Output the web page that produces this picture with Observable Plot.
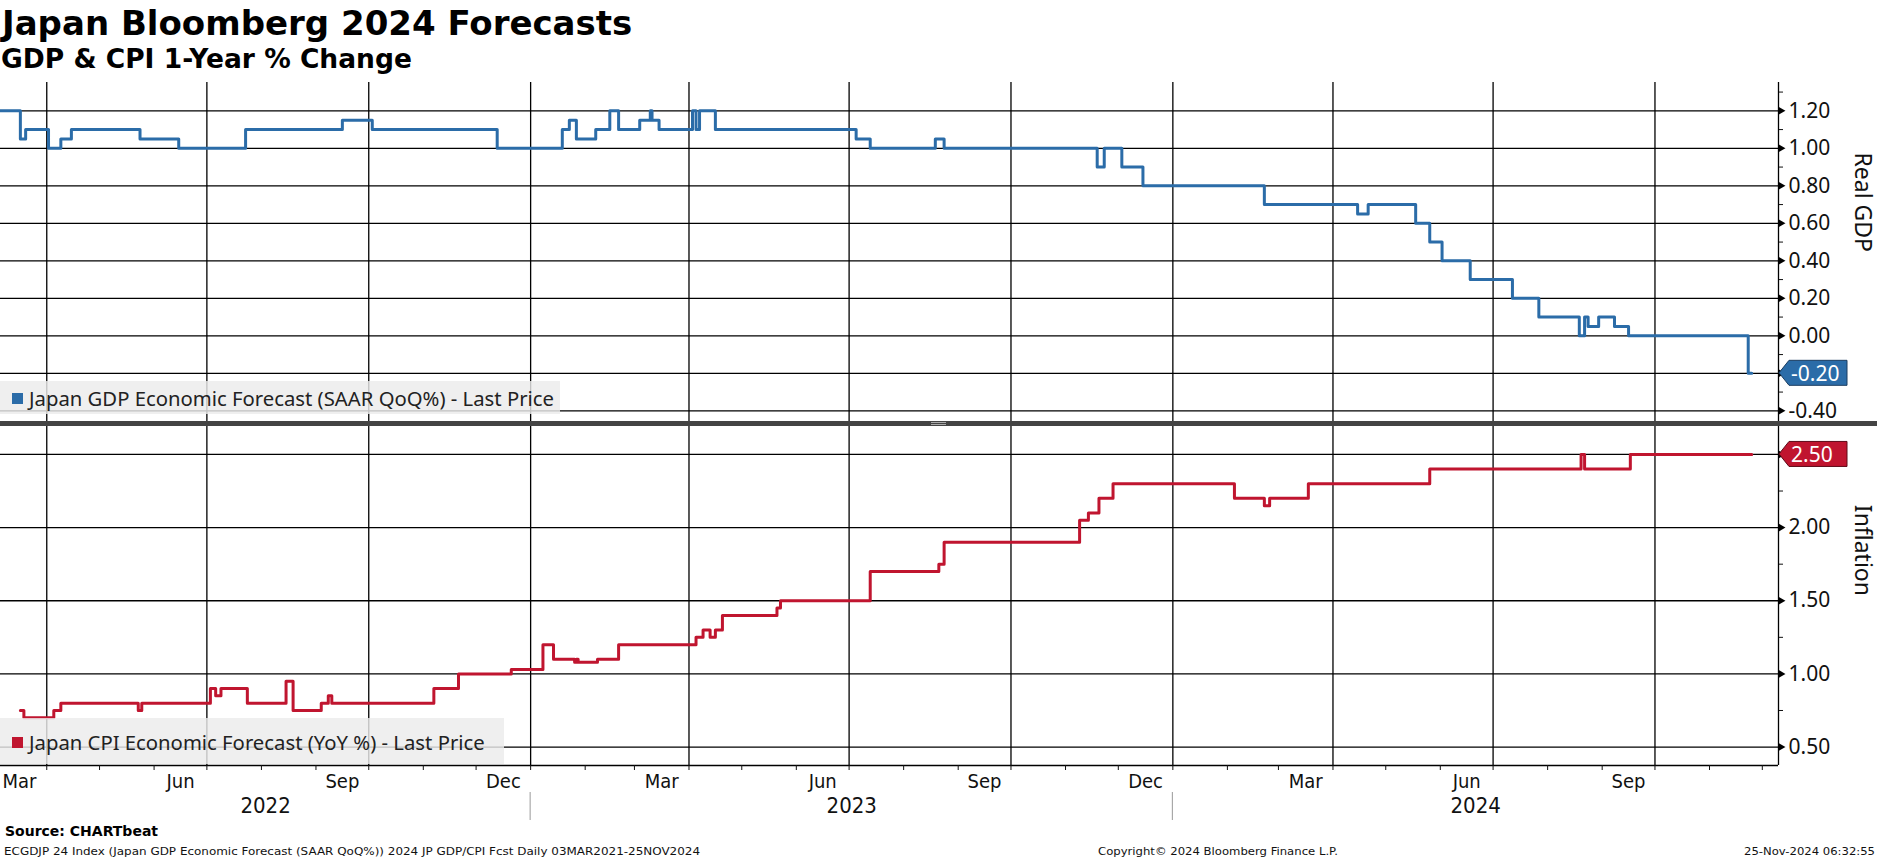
<!DOCTYPE html>
<html><head><meta charset="utf-8">
<script src="https://cdn.jsdelivr.net/npm/d3@7"></script>
<script src="https://cdn.jsdelivr.net/npm/@observablehq/plot@0.6"></script>
<style>
body{margin:0;background:#fff;width:1877px;height:859px;overflow:hidden;position:relative;font-family:"Noto Sans",sans-serif;}
.abs{position:absolute;}
#title{left:2px;top:6px;font-family:"DejaVu Sans";font-weight:bold;font-size:34px;line-height:34px;color:#000;white-space:nowrap;}
#subtitle{left:1px;top:46px;font-family:"DejaVu Sans";font-weight:bold;font-size:26.5px;line-height:26px;color:#000;white-space:nowrap;}
#divider{left:0;top:421px;width:1877px;height:5px;background:#444;}
#handle{left:931px;top:422px;width:15px;height:1px;border-top:1px solid #aaa;border-bottom:1px solid #aaa;}
.legend{background:rgba(236,236,236,0.82);color:#222;font-size:20.3px;white-space:nowrap;}
.legend .sw{position:absolute;width:11px;height:11px;}
.legend .tx{position:absolute;left:29px;}
</style></head><body>
<div id="title" class="abs">Japan Bloomberg 2024 Forecasts</div>
<div id="subtitle" class="abs">GDP &amp; CPI 1-Year % Change</div>
<div id="top" class="abs" style="left:0;top:82px"></div>
<div id="bottom" class="abs" style="left:0;top:426px"></div>
<div id="divider" class="abs"></div>
<div id="handle" class="abs"></div>
<div id="legGdp" class="abs legend" style="left:0;top:381px;width:560px;height:33px;">
  <div class="sw" style="left:12px;top:12px;background:#2b6ca8"></div>
  <div class="tx" style="top:4px;line-height:26px">Japan GDP Economic Forecast (SAAR QoQ%) - Last Price</div>
</div>
<div id="legCpi" class="abs legend" style="left:0;top:718px;width:504px;height:46px;">
  <div class="sw" style="left:12px;top:19px;background:#c0152f"></div>
  <div class="tx" style="top:11px;line-height:26px">Japan CPI Economic Forecast (YoY %) - Last Price</div>
</div>
<svg class="abs" style="left:0;top:815px" width="1877" height="44">
  <text x="5" y="21" font-family="DejaVu Sans" font-weight="bold" font-size="14" fill="#000">Source: CHARTbeat</text>
  <text x="4" y="40" font-family="DejaVu Sans" font-size="10.5" fill="#111" textLength="696" lengthAdjust="spacingAndGlyphs">ECGDJP 24 Index (Japan GDP Economic Forecast (SAAR QoQ%)) 2024 JP GDP/CPI Fcst  Daily 03MAR2021-25NOV2024</text>
  <text x="1098" y="40" font-family="DejaVu Sans" font-size="10.5" fill="#111" textLength="240" lengthAdjust="spacingAndGlyphs">Copyright© 2024 Bloomberg Finance L.P.</text>
  <text x="1744" y="40" font-family="DejaVu Sans" font-size="10.5" fill="#111" textLength="131" lengthAdjust="spacingAndGlyphs">25-Nov-2024 06:32:55</text>
</svg>
<script>
// ---- data ----
const gdpDates = ["2022-03-03","2022-03-17","2022-03-20","2022-04-02","2022-04-09","2022-04-15","2022-05-24","2022-06-15","2022-07-23","2022-09-16","2022-10-03","2022-12-13",
  "2023-01-19","2023-01-23","2023-01-27","2023-02-07","2023-02-15","2023-02-20","2023-03-04","2023-03-10","2023-03-11","2023-03-15","2023-04-03","2023-04-05","2023-04-07","2023-04-16",
  "2023-07-05","2023-07-13","2023-08-19","2023-08-24","2023-11-19","2023-11-23","2023-12-03","2023-12-15",
  "2024-02-22","2024-04-15","2024-04-21","2024-05-18","2024-05-26","2024-06-02","2024-06-18","2024-07-12","2024-07-27","2024-08-19","2024-08-22","2024-08-24","2024-08-30","2024-09-08","2024-09-16","2024-11-23","2024-11-25"];
const gdpValues = [1.20,1.05,1.10,1.00,1.05,1.10,1.05,1.00,1.10,1.15,1.10,1.00,
  1.10,1.15,1.05,1.10,1.20,1.10,1.15,1.20,1.15,1.10,1.20,1.10,1.20,1.10,
  1.05,1.00,1.05,1.00,0.90,1.00,0.90,0.80,
  0.70,0.65,0.70,0.60,0.50,0.40,0.30,0.20,0.10,0.00,0.10,0.05,0.10,0.05,0.00,-0.20,-0.20];
const cpiDates = ["2022-03-17","2022-03-19","2022-04-05","2022-04-09","2022-05-23","2022-05-25","2022-07-03","2022-07-06","2022-07-09","2022-07-24","2022-08-15","2022-08-19","2022-09-04","2022-09-08","2022-09-10","2022-11-07","2022-11-21","2022-12-21",
  "2023-01-08","2023-01-14","2023-01-26","2023-01-27","2023-01-28","2023-02-08","2023-02-20","2023-04-05","2023-04-09","2023-04-13","2023-04-16","2023-04-20","2023-05-21","2023-05-23","2023-07-13","2023-08-21","2023-08-24","2023-11-09","2023-11-14","2023-11-20","2023-11-28",
  "2024-02-05","2024-02-22","2024-02-25","2024-03-18","2024-05-26","2024-08-20","2024-08-22","2024-09-17","2024-11-25"];
const cpiValues = [0.75,0.70,0.75,0.80,0.75,0.80,0.90,0.85,0.90,0.80,0.95,0.75,0.80,0.85,0.80,0.90,1.00,1.03,
  1.20,1.10,1.08,1.10,1.08,1.10,1.20,1.25,1.30,1.25,1.30,1.40,1.45,1.50,1.70,1.75,1.90,2.05,2.10,2.20,2.30,
  2.20,2.15,2.20,2.30,2.40,2.50,2.40,2.50,2.50];
const quarterLines = ["2022-04-01","2022-07-01","2022-10-01","2023-01-01","2023-04-01","2023-07-01","2023-10-01","2024-01-01","2024-04-01","2024-07-01","2024-10-01"];
const monthLabels = ["Mar","Jun","Sep","Dec","Mar","Jun","Sep","Dec","Mar","Jun","Sep"];
const monthLabelStarts = ["2022-03-01","2022-06-01","2022-09-01","2022-12-01","2023-03-01","2023-06-01","2023-09-01","2023-12-01","2024-03-01","2024-06-01","2024-09-01"];
const yearLabels = ["2022","2023","2024"];
const gdpMajor = [-0.4,-0.2,0,0.2,0.4,0.6,0.8,1.0,1.2];
const gdpMinor = [-0.3,-0.1,0.1,0.3,0.5,0.7,0.9,1.1,1.3];
const cpiMajor = [0.5,1.0,1.5,2.0,2.5];
const cpiMinor = [0.75,1.25,1.75,2.25];
const gdpLast = -0.20, cpiLast = 2.50;
const gdpTitle = "Real GDP", cpiTitle = "Inflation";

// ---- setup ----
const blue = "#2b6ca8", red = "#c0152f";
const parse = d3.utcParse("%Y-%m-%d");
const xDomain = [new Date("2022-03-05T17:00Z"), new Date("2024-12-10T05:00Z")];
const gdp = gdpDates.map((d, i) => ({date: parse(d), value: gdpValues[i]}));
const cpi = cpiDates.map((d, i) => ({date: parse(d), value: cpiValues[i]}));
const qLines = quarterLines.map(parse);
const months = monthLabelStarts.map((d, i) => {
  const s = parse(d), e = d3.utcMonth.offset(s, 1);
  return {date: new Date((+s + +e) / 2), label: monthLabels[i]};
});
const years = yearLabels.map(y => {
  const s = new Date(Math.max(+parse(y + "-01-01"), +xDomain[0]));
  const e = new Date(Math.min(+parse((+y + 1) + "-01-01"), +xDomain[1]));
  return {date: new Date((+s + +e) / 2), label: y};
});
const monthTicks = d3.utcMonth.range(xDomain[0], xDomain[1]);
const yearSeps = yearLabels.slice(1).map(y => parse(y + "-01-01"));
const fmt = d => d.toFixed(2);
const condensed = "'Liberation Sans Narrow', 'DejaVu Sans Condensed', 'Noto Sans', sans-serif";

function lastBox(value, fill, stroke) {
  return (index, scales, values, dimensions) => {
    const y = scales.y(value);
    const x0 = dimensions.width - dimensions.marginRight;
    const g = d3.create("svg:g");
    const h = 25, tip = 11, w = 69;
    g.append("path")
      .attr("d", `M${x0 + 1},${y} L${x0 + tip},${y - h / 2} L${x0 + w},${y - h / 2} L${x0 + w},${y + h / 2} L${x0 + tip},${y + h / 2} Z`)
      .attr("fill", fill).attr("stroke", stroke).attr("stroke-width", 1);
    g.append("text").attr("x", x0 + 13).attr("y", y + 8)
      .attr("text-anchor", "start")
      .attr("fill", "#fff").attr("font-size", 21).attr("font-family", "'Noto Sans', sans-serif")
      .text(fmt(value));
    return g.node();
  };
}

function rightAxis(major, minor, last) {
  return [
    Plot.axisY(minor, {anchor: "right", tickSize: 4, tickFormat: () => "", label: null}),
    Plot.axisY(major.filter(v => v !== last), {anchor: "right", tickSize: 0, tickPadding: 10, tickFormat: fmt, label: null}),
    Plot.dot(major, {x: () => xDomain[1], y: d => d, symbol: "triangle", r: 3.2, rotate: 90, fill: "#000", dx: 2})
  ];
}

const common = {
  width: 1877, height: 339,
  marginTop: 0, marginBottom: 0, marginLeft: 0, marginRight: 99,
  style: {fontFamily: "'Noto Sans', sans-serif", fontSize: "21px", color: "#111", background: "transparent", overflow: "visible"}
};

const topPlot = Plot.plot({
  ...common,
  x: {type: "utc", domain: xDomain, axis: null},
  y: {domain: [-0.457, 1.351], axis: null},
  marks: [
    Plot.ruleX(qLines, {stroke: "#000", strokeWidth: 1.3}),
    Plot.ruleY(gdpMajor, {stroke: "#000", strokeWidth: 1.3}),
    Plot.ruleX([xDomain[1]], {stroke: "#000", strokeWidth: 1.3}),
    ...rightAxis(gdpMajor, gdpMinor, gdpLast),
    Plot.line(gdp, {x: "date", y: "value", curve: "step-after", stroke: blue, strokeWidth: 3, clip: true}),
    Plot.text([gdpTitle], {frameAnchor: "right", dx: 84, rotate: 90, fontSize: 23, fill: "#111"}),
    lastBox(gdpLast, blue, "#1b3d60")
  ]
});
document.getElementById("top").appendChild(topPlot);

const bottomPlot = Plot.plot({
  ...common,
  height: 339 + 94, marginBottom: 94,
  x: {type: "utc", domain: xDomain, axis: null},
  y: {domain: [0.374, 2.691], axis: null},
  marks: [
    Plot.ruleX(qLines, {stroke: "#000", strokeWidth: 1.3}),
    Plot.ruleY(cpiMajor, {stroke: "#000", strokeWidth: 1.3}),
    Plot.ruleX([xDomain[1]], {stroke: "#000", strokeWidth: 1.3}),
    Plot.ruleY([0.374], {stroke: "#000", strokeWidth: 1.3}),
    ...rightAxis(cpiMajor, cpiMinor, cpiLast),
    Plot.axisX(monthTicks, {anchor: "bottom", tickSize: 5, tickFormat: () => "", label: null}),
    Plot.text(months, {x: "date", text: "label", frameAnchor: "bottom", dy: 22, fontSize: 20, fontFamily: condensed, fill: "#111"}),
    Plot.text(years, {x: "date", text: "label", frameAnchor: "bottom", dy: 47, fontSize: 22, fontFamily: condensed, fill: "#111"}),
    (index, scales, values, dimensions) => {
      const g = d3.create("svg:g").attr("stroke", "#999").attr("stroke-width", 1);
      const yb = dimensions.height - dimensions.marginBottom;
      for (const d of yearSeps) g.append("line").attr("x1", scales.x(d)).attr("x2", scales.x(d)).attr("y1", yb + 27).attr("y2", yb + 55);
      return g.node();
    },
    Plot.line(cpi, {x: "date", y: "value", curve: "step-after", stroke: red, strokeWidth: 3, clip: true}),
    Plot.text([cpiTitle], {frameAnchor: "right", dx: 84, rotate: 90, fontSize: 23, fill: "#111"}),
    lastBox(cpiLast, red, "#5e0a17")
  ]
});
document.getElementById("bottom").appendChild(bottomPlot);
</script>
</body></html>
